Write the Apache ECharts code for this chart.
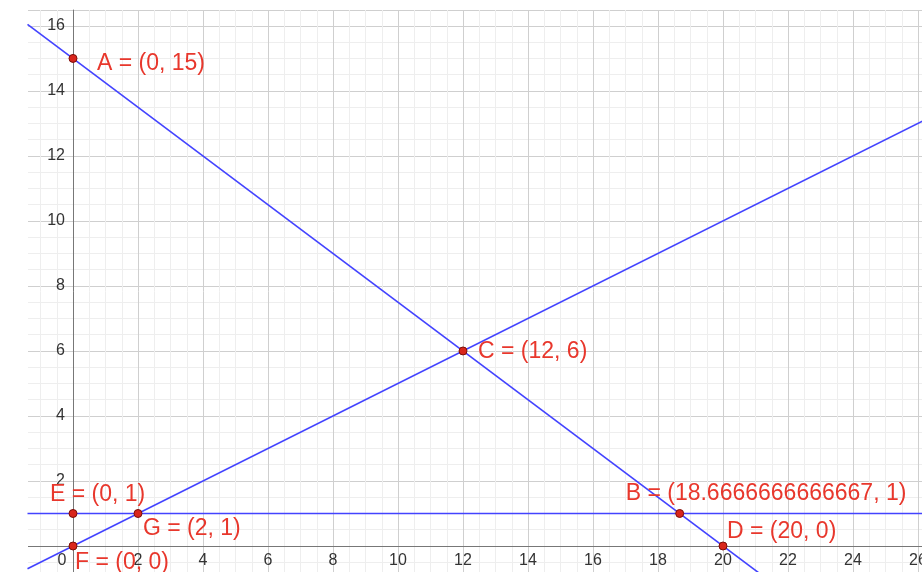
<!DOCTYPE html>
<html>
<head>
<meta charset="utf-8">
<script src="https://cdn.jsdelivr.net/npm/echarts@6/dist/echarts.min.js"></script>
<style>
html,body{margin:0;padding:0;background:#fff;}
#main{width:922px;height:572px;}
</style>
</head>
<body>
<div id="main"></div>
<script>
// points
var pointNames = ['A', 'B', 'C', 'D', 'E', 'F', 'G'];
var pointX = [0, 18.6666666666667, 12, 20, 0, 0, 2];
var pointY = [15, 1, 6, 0, 1, 0, 1];

// lines (end points)
var lineAD = [[-1.4, 16.05], [21.1, -0.825]];
var lineFC = [[-1.4, -0.7], [26.2, 13.1]];
var lineEB = [[-1.4, 1], [26.2, 1]];

// where each point label sits, relative to its point
var labelOffsets = {
  A: [24, 5], B: [-54, -20], C: [15, 1], D: [4, -14],
  E: [-23, -19], F: [2, 17], G: [5, 15]
};

var font = '"Liberation Sans", Arial, Helvetica, sans-serif';
var blue = '#4343ff';
var red = '#e8372c';

var points = [];
for (var i = 0; i < pointNames.length; i++) {
  var n = pointNames[i];
  points.push({
    value: [pointX[i], pointY[i]],
    name: n + ' = (' + pointX[i] + ', ' + pointY[i] + ')',
    label: { offset: labelOffsets[n] }
  });
}

function lineSeries(data) {
  return {
    type: 'line', data: data, symbol: 'none', silent: true,
    lineStyle: { color: blue, width: 1.6 }, z: 3
  };
}

var myChart = echarts.init(document.getElementById('main'));
myChart.setOption({
  animation: false,
  grid: { left: 8, right: 0, top: 10, bottom: -39, containLabel: false, outerBoundsMode: 'none' },
  xAxis: {
    type: 'value', min: -2, max: 26.123, interval: 2,
    offset: -65,
    axisLine: { onZero: false, lineStyle: { color: '#777', width: 1 } },
    axisTick: { show: false },
    minorTick: { show: false, splitNumber: 4 },
    splitLine: { lineStyle: { color: '#cfcfcf', width: 1 } },
    minorSplitLine: { show: true, lineStyle: { color: '#eeeeee', width: 1 } },
    axisLabel: {
      color: '#333', fontSize: 16, fontFamily: font, margin: 7,
      formatter: function (v) {
        if (v === 0) return '{o|0}';
        if (v < 0 || v % 2 !== 0) return '';
        return String(v);
      },
      rich: { o: { color: '#333', fontSize: 16, fontFamily: font, padding: [0, 22, 0, 0] } }
    }
  },
  yAxis: {
    type: 'value', min: -2, max: 16.49, interval: 2,
    offset: -65,
    axisLine: { onZero: false, lineStyle: { color: '#777', width: 1 } },
    axisTick: { show: false },
    minorTick: { show: false, splitNumber: 4 },
    splitLine: { lineStyle: { color: '#cfcfcf', width: 1 } },
    minorSplitLine: { show: true, lineStyle: { color: '#eeeeee', width: 1 } },
    axisLabel: {
      color: '#333', fontSize: 16, fontFamily: font, margin: 8,
      formatter: function (v) {
        if (v <= 0 || v % 2 !== 0) return '';
        return String(v);
      }
    }
  },
  graphic: [{
    type: 'rect', left: 0, top: 0, z: 1,
    shape: { width: 28, height: 572 },
    style: { fill: '#fff' }
  }],
  series: [
    lineSeries(lineAD),
    lineSeries(lineFC),
    lineSeries(lineEB),
    {
      type: 'scatter', data: points, symbolSize: 8, z: 5,
      itemStyle: { color: '#d9261c', borderColor: '#7a0d08', borderWidth: 1, opacity: 1 },
      label: {
        show: true, position: 'inside', align: 'left', verticalAlign: 'middle',
        color: red, fontSize: 23, fontFamily: font,
        formatter: function (p) { return p.name; }
      }
    }
  ]
});
</script>
</body>
</html>
